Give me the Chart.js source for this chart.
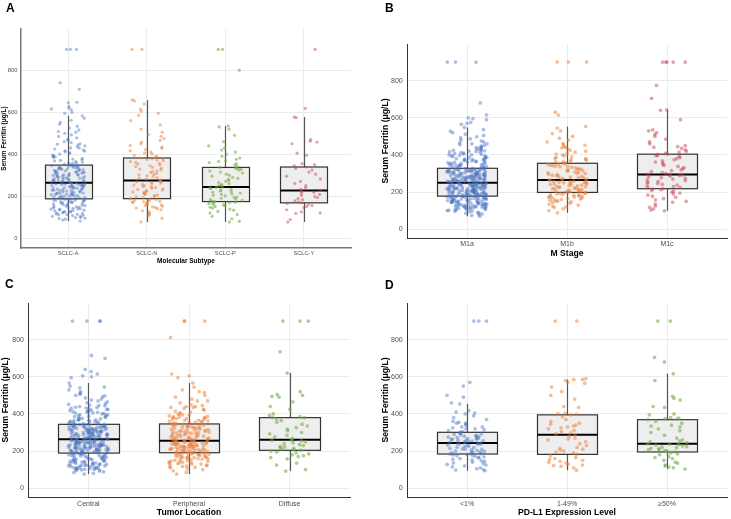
<!DOCTYPE html>
<html><head><meta charset="utf-8">
<script src="https://cdn.jsdelivr.net/npm/chart.js@4.4.1/dist/chart.umd.min.js"></script>
<style>
html,body{margin:0;padding:0;background:#fff}
body{width:731px;height:519px;position:relative;overflow:hidden;font-family:"Liberation Sans",Arial,sans-serif}
canvas{position:absolute;display:block}
.lbl{position:absolute;font-weight:bold;font-size:12px;line-height:1;color:#000;font-family:"Liberation Sans",Arial,sans-serif}
</style></head><body>
<canvas id="cA" width="365" height="268" style="left:0;top:0"></canvas>
<canvas id="cB" width="366" height="260" style="left:365px;top:0"></canvas>
<canvas id="cC" width="365" height="260" style="left:0;top:259px"></canvas>
<canvas id="cD" width="366" height="260" style="left:365px;top:259px"></canvas>
<div class="lbl" style="left:6px;top:1.7px">A</div>
<div class="lbl" style="left:385px;top:1.7px">B</div>
<div class="lbl" style="left:5px;top:278px">C</div>
<div class="lbl" style="left:385px;top:279px">D</div>
<script>
// ---------- shared ----------
const Y_TICKS = [0, 200, 400, 600, 800];
const Y_TITLE = 'Serum Ferritin (\u03bcg/L)';

// ---------- Panel A: Molecular Subtype ----------
const A_CATEGORIES = ['SCLC-A', 'SCLC-N', 'SCLC-P', 'SCLC-Y'];
const A_Q1 = [187, 188, 174, 168];
const A_MEDIAN = [264, 274, 244, 227];
const A_Q3 = [348, 382, 337, 339];
const A_WHISKER_LOW = [81, 76, 76, 76];
const A_WHISKER_HIGH = [583, 659, 535, 577];
const A_SCLC_A = [900,900,900,741,710,648,645,627,620,616,612,600,595,
81,86,90,93,95,98,100,102,104,107,109,111,113,115,117,119,121,123,124,126,128,130,131,133,135,137,139,140,142,144,146,148,149,151,153,155,156,158,160,161,163,165,167,168,170,171,173,174,176,177,179,180,182,183,184,185,186,187,112,138,
188,190,191,193,194,196,197,199,200,202,203,205,206,208,209,211,212,214,215,217,218,220,221,223,224,226,227,229,230,232,233,235,236,238,239,241,242,244,245,247,248,250,251,252,254,255,256,258,259,260,261,262,263,264,198,216,228,240,249,257,263,207,
265,266,268,269,271,272,274,275,277,278,280,281,283,284,286,287,289,290,292,293,295,296,298,299,301,302,304,305,307,308,310,311,313,314,316,317,319,320,322,323,325,326,328,329,331,332,334,335,337,338,340,341,343,344,346,347,348,270,285,300,315,330,
350,353,356,359,362,365,368,371,374,377,380,384,388,392,396,400,404,408,412,416,420,425,430,435,440,445,450,455,460,466,472,478,485,492,500,508,516,525,534,543,552,562,572,583,360,390,415,430,448,505];
const A_SCLC_N = [900,900,
76,95,105,110,115,120,125,130,135,140,143,146,149,152,155,158,161,164,167,170,172,174,176,178,180,182,184,186,188,
190,193,196,199,202,205,208,211,214,217,220,223,226,229,232,235,238,241,244,247,250,253,256,259,262,265,268,271,274,
277,281,285,289,293,297,301,305,309,313,317,321,325,329,333,337,341,345,349,353,357,361,365,369,372,375,378,380,382,
386,390,395,400,405,410,416,422,428,435,442,450,458,466,475,485,495,505,520,540,560,585,595,605,615,640,655,659];
const A_SCLC_P = [900,900,801,
76,80,92,104,112,120,127,133,138,143,147,151,155,158,161,164,167,169,171,173,174,
176,180,183,187,190,194,197,201,204,208,211,215,218,222,225,229,232,236,239,242,244,
248,252,256,260,265,270,275,280,285,290,295,300,305,310,315,320,325,328,331,334,337,
342,348,355,360,365,370,376,382,390,400,410,420,430,440,460,490,520,530,535];
const A_SCLC_Y = [900,619,
76,88,118,120,125,135,145,150,155,160,165,168,
172,178,183,188,193,198,203,208,213,218,222,227,
232,240,250,260,270,282,295,305,315,325,332,339,
345,350,355,395,405,450,458,462,470,575,577];

// ---------- Panel B: M Stage ----------
const B_CATEGORIES = ['M1a', 'M1b', 'M1c'];
const B_Q1 = [178, 198, 218];
const B_MEDIAN = [250, 265, 295];
const B_Q3 = [328, 355, 404];
const B_WHISKER_LOW = [70, 88, 99];
const B_WHISKER_HIGH = [548, 553, 643];
const B_M1A = [900,900,900,680,616,600,595,590,575,570,565,
70,74,78,82,85,88,91,94,96,98,100,102,104,106,108,110,112,114,116,118,119,121,122,124,125,127,128,130,131,133,134,136,137,139,140,142,143,145,146,148,149,151,152,154,155,157,158,160,161,163,164,166,167,169,170,172,173,175,176,177,178,105,115,120,126,132,138,144,150,156,162,168,174,111,123,135,147,159,171,117,129,141,153,165,177,
179,180,181,182,183,184,185,186,187,188,189,190,191,192,193,194,195,196,197,198,199,200,201,202,203,204,205,206,207,208,209,210,211,212,213,214,215,216,217,218,219,220,221,222,223,224,225,226,227,228,229,230,231,232,233,234,235,236,237,238,239,240,241,242,243,244,245,246,247,248,249,250,185,195,205,215,225,235,245,190,210,230,200,220,240,
251,252,253,254,255,256,257,258,259,260,261,262,263,264,265,266,267,268,269,270,271,272,273,274,275,276,277,278,279,280,281,282,283,284,285,286,287,288,289,290,291,292,293,294,295,296,297,298,299,300,301,302,303,304,305,306,307,308,309,310,311,312,313,314,315,316,317,318,319,320,321,322,323,324,325,326,327,328,260,280,300,320,270,290,310,
330,332,334,336,338,340,342,344,346,348,350,352,354,356,358,360,362,364,366,368,370,372,374,376,378,380,383,386,389,392,395,398,401,404,407,410,413,416,419,422,425,428,431,435,439,443,447,451,455,460,465,470,475,480,486,492,498,505,512,520,528,536,548,335,345,355,365,375,385,395,405,415,425,400,420,440,460];
const B_M1B = [900,900,900,630,615,
88,100,110,118,125,130,135,140,144,148,152,156,159,162,165,168,170,172,174,176,178,180,182,184,186,188,190,192,194,196,197,198,160,150,120,
199,201,203,205,207,209,211,213,215,217,219,221,223,225,227,229,231,233,235,237,239,241,243,245,247,249,251,253,255,257,259,261,263,265,250,
267,270,273,276,279,282,285,288,291,294,297,300,303,306,309,312,315,318,321,324,327,330,333,336,339,342,345,348,351,354,355,280,300,320,340,
358,362,366,370,374,378,382,386,390,395,400,405,410,415,420,426,432,438,445,452,460,470,480,490,500,515,530,545,553,365,380,440,455];
const B_M1C = [900,900,900,900,900,775,705,
99,103,110,118,125,135,145,150,158,165,172,178,184,190,195,200,205,209,213,216,218,
222,226,230,234,238,242,246,250,254,258,262,266,270,274,278,282,286,289,292,294,295,
300,305,310,315,320,326,332,338,344,350,356,362,368,374,380,386,392,396,400,402,404,
410,415,420,428,435,442,450,460,470,485,500,510,520,530,535,590,640,643,445];

// ---------- Panel C: Tumor Location ----------
const C_CATEGORIES = ['Central', 'Peripheral', 'Diffuse'];
const C_Q1 = [189, 191, 204];
const C_MEDIAN = [263, 256, 261];
const C_Q3 = [344, 346, 380];
const C_WHISKER_LOW = [76, 76, 92];
const C_WHISKER_HIGH = [566, 566, 620];
const C_CENTRAL = [900,900,900,900,715,700,640,628,615,605,600,595,
76,80,84,88,92,95,98,100,102,104,106,108,110,112,114,116,118,120,122,124,126,128,130,132,134,136,138,140,142,144,146,148,150,152,154,156,158,160,162,164,166,168,170,172,174,176,178,180,182,184,186,188,189,101,105,111,117,123,129,135,141,147,153,159,165,171,177,183,187,99,109,121,133,145,
190,191,192,194,195,196,198,199,200,202,203,204,206,207,208,210,211,212,214,215,216,218,219,220,222,223,224,226,227,228,230,231,232,234,235,236,238,239,240,242,243,244,246,247,248,250,251,252,254,255,256,258,259,260,262,263,193,205,217,229,241,253,197,209,221,233,245,257,201,213,225,237,249,261,225,235,245,
264,265,267,268,269,271,272,273,275,276,277,279,280,281,283,284,285,287,288,289,291,292,293,295,296,297,299,300,301,303,304,305,307,308,309,311,312,313,315,316,317,319,320,321,323,324,325,327,328,329,331,332,333,335,336,337,339,340,341,343,344,270,282,294,306,318,330,342,274,286,298,310,322,334,290,300,315,
346,348,350,352,354,356,358,360,362,364,366,368,370,373,376,379,382,385,388,391,394,397,400,403,406,409,412,415,418,421,424,428,432,436,440,444,448,452,456,460,465,470,475,480,486,492,498,505,512,520,530,540,550,566,355,365,375,385,395,405,415,425,435,445,410,430,500,545];
const C_PERIPHERAL = [900,900,900,812,615,605,595,
76,86,94,100,105,110,114,118,122,126,130,133,136,139,142,145,148,151,154,157,160,162,164,166,168,170,172,174,176,178,180,182,184,186,188,190,191,112,124,135,146,158,169,181,120,140,160,180,150,130,170,187,165,
192,193,195,196,198,199,201,202,204,205,207,208,210,211,213,214,216,217,219,220,222,223,225,226,228,229,231,232,234,235,237,238,240,241,243,244,246,247,249,250,252,253,255,256,197,209,221,233,245,203,215,227,239,251,230,240,
258,260,262,264,266,268,270,272,274,276,278,280,282,284,286,288,290,292,294,296,298,300,302,304,306,308,310,312,314,316,318,320,322,324,326,328,330,332,334,336,338,340,342,344,346,265,275,285,295,305,315,325,335,345,270,300,
348,351,354,357,360,363,366,369,372,375,378,381,384,387,390,394,398,402,406,410,415,420,425,430,435,440,445,450,460,470,480,490,500,515,530,545,566,355,365,375,385,395,380,360,440,435,520,470];
const C_DIFFUSE = [900,900,900,735,
92,100,125,135,158,165,175,180,185,190,195,200,204,170,
206,210,214,218,222,226,230,235,240,245,250,255,258,261,
268,276,285,293,300,310,318,326,335,345,355,365,373,380,
385,392,400,425,440,465,490,495,500,505,520,620,380];

// ---------- Panel D: PD-L1 Expression Level ----------
const D_CATEGORIES = ['<1%', '1-49%', '\u226550%'];
const D_Q1 = [184, 182, 195];
const D_MEDIAN = [243, 288, 240];
const D_Q3 = [301, 395, 369];
const D_WHISKER_LOW = [94, 97, 103];
const D_WHISKER_HIGH = [454, 586, 616];
const D_LT1 = [900,900,900,570,550,500,490,460,
94,98,100,105,110,115,120,125,128,132,136,140,144,148,152,156,160,163,166,169,172,175,178,180,182,184,
186,188,190,192,194,196,198,200,203,206,209,212,215,218,221,224,227,230,233,236,238,240,241,242,243,210,
245,247,249,251,253,255,257,259,261,263,265,267,269,271,273,275,278,281,284,287,290,293,296,299,301,280,
305,310,315,320,325,330,340,345,350,355,360,370,380,390,400,405,410,418,350,330,454,320];
const D_1TO49 = [900,900,590,
97,110,118,122,125,130,135,140,145,150,155,160,165,175,182,
190,195,200,205,210,215,220,230,240,250,260,265,270,280,288,
292,298,305,312,320,325,330,335,340,345,350,360,370,385,395,
398,400,405,435,440,480,500,520,545,565,570,580,585,586];
const D_GE50 = [900,900,705,680,
103,110,115,120,125,135,140,150,160,165,170,180,185,190,195,
198,200,203,206,209,212,215,218,221,224,228,232,235,238,240,
245,250,255,260,270,285,300,310,320,330,335,340,350,360,369,
372,375,380,395,400,435,440,475,485,495,580,616,378];

// ---------- colours ----------
const BLUE = 'rgba(68,114,196,0.45)';
const ORANGE = 'rgba(237,125,49,0.5)';
const GREEN = 'rgba(112,173,71,0.58)';
const RED = 'rgba(200,72,84,0.5)';

Chart.defaults.font.family = "'Liberation Sans', Arial, sans-serif";

// deterministic jitter (horizontal position only)
function jitter(i, g) {
  const s = Math.sin((i + 1) * 12.9898 + (g + 1) * 78.233) * 43758.5453;
  return (s - Math.floor(s)) * 2 - 1;
}

const boxPlugin = {
  id: 'boxes',
  beforeDatasetsDraw(chart) {
    const b = chart.options.plugins.boxes;
    if (!b) return;
    const ctx = chart.ctx, xs = chart.scales.x, ys = chart.scales.y;
    ctx.save();
    for (let i = 0; i < b.q1.length; i++) {
      const xc = Math.round(xs.getPixelForValue(i + 1)) + 0.5;
      const xl = Math.round(xs.getPixelForValue(i + 1 - 0.3)) + 0.5;
      const xr = Math.round(xs.getPixelForValue(i + 1 + 0.3)) + 0.5;
      const yq1 = ys.getPixelForValue(b.q1[i]);
      const yq3 = ys.getPixelForValue(b.q3[i]);
      const ym = ys.getPixelForValue(b.median[i]);
      const ylo = ys.getPixelForValue(b.low[i]);
      const yhi = ys.getPixelForValue(b.high[i]);
      ctx.strokeStyle = b.whiskerColor; ctx.lineWidth = b.whiskerWidth;
      ctx.beginPath();
      ctx.moveTo(xc, yhi); ctx.lineTo(xc, yq3);
      ctx.moveTo(xc, yq1); ctx.lineTo(xc, ylo);
      ctx.stroke();
      ctx.fillStyle = '#eeeeee';
      ctx.fillRect(xl, yq3, xr - xl, yq1 - yq3);
      ctx.strokeStyle = '#333333'; ctx.lineWidth = b.boxWidth;
      ctx.strokeRect(xl, yq3, xr - xl, yq1 - yq3);
      ctx.strokeStyle = '#000000'; ctx.lineWidth = b.medianWidth;
      ctx.beginPath(); ctx.moveTo(xl, ym); ctx.lineTo(xr, ym); ctx.stroke();
    }
    ctx.restore();
  }
};

function buildPanel(id, cfg) {
  const datasets = cfg.groups.map((vals, gi) => ({
    data: vals.map((v, i) => ({ x: gi + 1 + jitter(i, gi + cfg.seed) * cfg.jitterWidth, y: v })),
    backgroundColor: cfg.colors[gi],
    borderWidth: 0,
    pointRadius: cfg.pointRadius
  }));
  const n = cfg.categories.length;
  new Chart(document.getElementById(id), {
    type: 'scatter',
    data: { datasets },
    options: {
      responsive: false, animation: false, events: [],
      layout: { padding: cfg.padding },
      plugins: {
        legend: { display: false }, tooltip: { enabled: false },
        boxes: { q1: cfg.q1, median: cfg.median, q3: cfg.q3, low: cfg.low, high: cfg.high,
                 whiskerColor: '#555555', whiskerWidth: 1.2, boxWidth: 1.2, medianWidth: 2 }
      },
      scales: {
        x: {
          type: 'linear', min: 0.4, max: n + 0.6,
          afterBuildTicks: s => { s.ticks = cfg.categories.map((c, i) => ({ value: i + 1 })); },
          afterFit: s => { s.height = cfg.hx; },
          ticks: { callback: v => cfg.categories[Math.round(v) - 1], autoSkip: false, maxRotation: 0,
                   font: { size: cfg.tickSize }, color: '#4d4d4d', padding: cfg.xTickPad },
          grid: { color: '#ebebeb', drawTicks: false, lineWidth: 1 },
          border: { display: true, color: cfg.axisColor, width: cfg.axisWidth },
          title: { display: true, text: cfg.xTitle, color: '#000',
                   font: { size: cfg.titleSize, weight: 'bold' }, padding: { top: 0, bottom: cfg.xTitlePad } }
        },
        y: {
          min: -47.5, max: 997.5,
          afterBuildTicks: s => { s.ticks = Y_TICKS.map(v => ({ value: v })); },
          afterFit: s => { s.width = cfg.wy; },
          ticks: { font: { size: cfg.tickSize }, color: '#4d4d4d', padding: cfg.yTickPad },
          grid: { color: '#ebebeb', drawTicks: false, lineWidth: 1 },
          border: { display: true, color: cfg.axisColor, width: cfg.axisWidth },
          title: { display: true, text: Y_TITLE, color: '#000',
                   font: { size: cfg.titleSize, weight: 'bold' }, padding: { top: cfg.yTitlePad, bottom: 0 } }
        }
      }
    },
    plugins: [boxPlugin]
  });
}

buildPanel('cA', {
  categories: A_CATEGORIES, groups: [A_SCLC_A, A_SCLC_N, A_SCLC_P, A_SCLC_Y],
  colors: [BLUE, ORANGE, GREEN, RED],
  q1: A_Q1, median: A_MEDIAN, q3: A_Q3, low: A_WHISKER_LOW, high: A_WHISKER_HIGH,
  xTitle: 'Molecular Subtype', seed: 0, jitterWidth: 0.22, pointRadius: 1.6,
  padding: { left: 0, top: 29, right: 14, bottom: 0 }, wy: 21, hx: 20,
  tickSize: 5.7, titleSize: 6.5, yTickPad: 3.7, yTitlePad: 0, xTickPad: 1.9, xTitlePad: 3.1,
  axisColor: '#777777', axisWidth: 1.5
});
buildPanel('cB', {
  categories: B_CATEGORIES, groups: [B_M1A, B_M1B, B_M1C],
  colors: [BLUE, ORANGE, RED],
  q1: B_Q1, median: B_MEDIAN, q3: B_Q3, low: B_WHISKER_LOW, high: B_WHISKER_HIGH,
  xTitle: 'M Stage', seed: 10, jitterWidth: 0.2, pointRadius: 1.85,
  padding: { left: 0, top: 44, right: 3, bottom: 0 }, wy: 42, hx: 22,
  tickSize: 7, titleSize: 8.6, yTickPad: 4.3, yTitlePad: 15.5, xTickPad: 2.1, xTitlePad: 0.8,
  axisColor: '#333333', axisWidth: 1
});
buildPanel('cC', {
  categories: C_CATEGORIES, groups: [C_CENTRAL, C_PERIPHERAL, C_DIFFUSE],
  colors: [BLUE, ORANGE, GREEN],
  q1: C_Q1, median: C_MEDIAN, q3: C_Q3, low: C_WHISKER_LOW, high: C_WHISKER_HIGH,
  xTitle: 'Tumor Location', seed: 20, jitterWidth: 0.2, pointRadius: 1.85,
  padding: { left: 0, top: 44, right: 15, bottom: 0 }, wy: 28, hx: 22,
  tickSize: 7, titleSize: 8.6, yTickPad: 4, yTitlePad: 0.8, xTickPad: 2.4, xTitlePad: 1.5,
  axisColor: '#333333', axisWidth: 1
});
buildPanel('cD', {
  categories: D_CATEGORIES, groups: [D_LT1, D_1TO49, D_GE50],
  colors: [BLUE, ORANGE, GREEN],
  q1: D_Q1, median: D_MEDIAN, q3: D_Q3, low: D_WHISKER_LOW, high: D_WHISKER_HIGH,
  xTitle: 'PD-L1 Expression Level', seed: 30, jitterWidth: 0.2, pointRadius: 1.85,
  padding: { left: 0, top: 44, right: 3, bottom: 0 }, wy: 42, hx: 22,
  tickSize: 7, titleSize: 8.6, yTickPad: 4.3, yTitlePad: 15.5, xTickPad: 2.4, xTitlePad: 1.5,
  axisColor: '#333333', axisWidth: 1
});
</script>
</body></html>
